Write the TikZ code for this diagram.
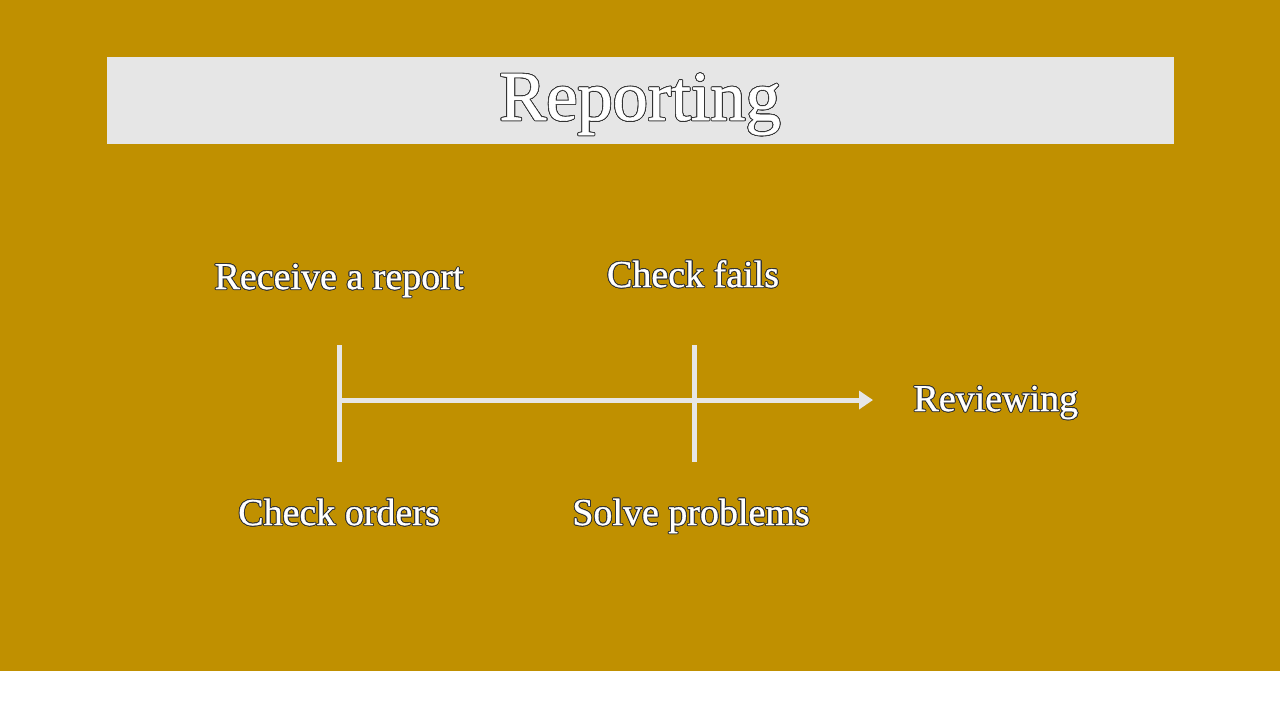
\documentclass[tikz,border=0pt]{standalone}
\usepackage{fontspec}
\setmainfont{Liberation Serif}[FakeBold=0.8]
\usepackage[copies]{contour}
\contourlength{0.25pt}
\usetikzlibrary{arrows.meta}
\definecolor{gold}{RGB}{192,144,0}
\definecolor{pale}{RGB}{230,230,230}
\begin{document}
\begin{tikzpicture}[x=0.01cm, y=-0.01cm, line width=0.5mm,
	label/.style={text=white, font=\fontsize{10.8}{12}\selectfont, inner sep=0pt, anchor=base},
	tick/.style={draw=pale},
	>={Triangle[length=1.4mm, width=1.8mm]}]
	% 背景与标题栏
	\useasboundingbox (0,0) rectangle (1280,720);
	\fill[gold] (0,0) rectangle (1280,671);
	\fill[pale] (107,57) rectangle (1174,144);
	\node (title) at (640,120) [text=white, font=\fontsize{20}{24}\selectfont, inner sep=0pt, anchor=base] {\contour{black!80}{Reporting}};
	
	% 时间轴上的点
	\coordinate (t1) at (339,400);
	\coordinate (t2) at (694,400);
	\coordinate (t1a) at (339,345);
	\coordinate (t1b) at (339,462);
	\coordinate (t2a) at (694,345);
	\coordinate (t2b) at (694,462);
	\coordinate (tend) at (873,400);
	
	% 刻度与箭头
	\draw[tick] (t1a) -- (t1b);
	\draw[tick] (t2a) -- (t2b);
	\draw[tick, ->] (t1) -- (tend);
	
	% 文字标签
	\node (receive) at (339,289) [label] {\contour{black!80}{Receive a report}};
	\node (fails) at (693,287) [label] {\contour{black!80}{Check fails}};
	\node (orders) at (339,525) [label] {\contour{black!80}{Check orders}};
	\node (solve) at (691,525) [label] {\contour{black!80}{Solve problems}};
	\node (review) at (911,411) [label, anchor=base west] {\contour{black!80}{Reviewing}};
\end{tikzpicture}
\end{document}
